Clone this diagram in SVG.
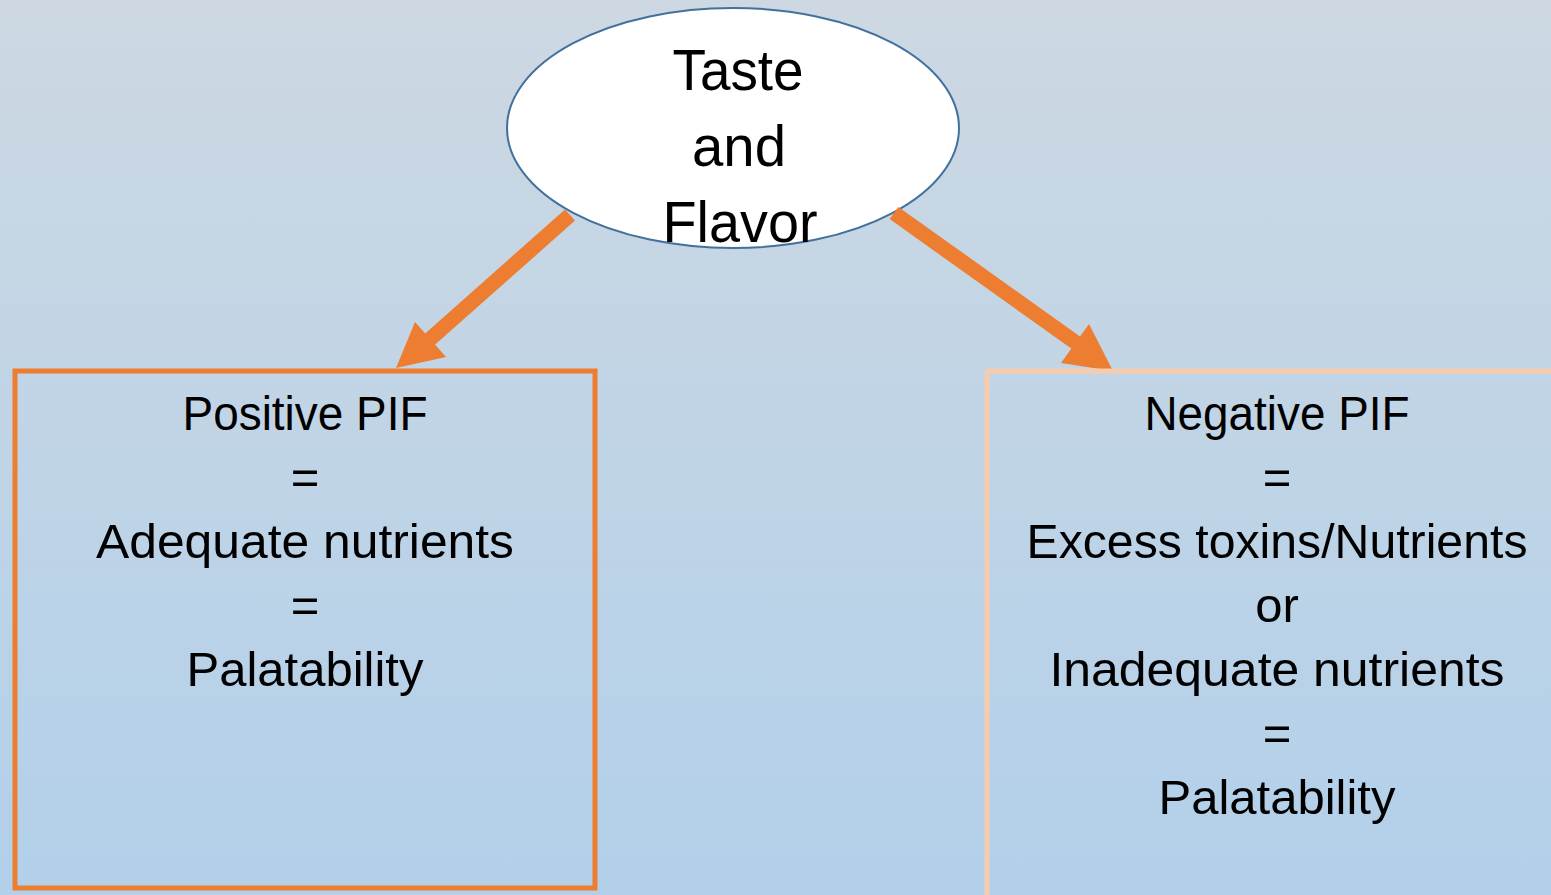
<svg xmlns="http://www.w3.org/2000/svg" width="1551" height="895" viewBox="0 0 1551 895">
  <defs>
    <linearGradient id="bg" x1="0" y1="0" x2="0" y2="1">
      <stop offset="0" stop-color="#CDD8E2"/>
      <stop offset="1" stop-color="#B2D0EA"/>
    </linearGradient>
  </defs>
  <style>
    .t { font-family: "Liberation Sans", Arial, sans-serif; fill: #000; text-anchor: middle; }
    .big { font-size: 58px; }
    .box { font-size: 49px; }
    .shaft { stroke: #ED7D31; stroke-width: 15; fill: none; }
    .head { fill: #ED7D31; }
  </style>
  <rect x="0" y="0" width="1551" height="895" fill="url(#bg)"/>

  <g id="node-taste">
    <ellipse cx="733" cy="128" rx="226" ry="120" fill="#FFFFFF" stroke="#41719C" stroke-width="2"/>
  </g>

  <g id="connectors">
    <line class="shaft" x1="570" y1="215" x2="420" y2="348"/>
    <polygon class="head" points="396,368 415,322 446,357"/>
    <line class="shaft" x1="894" y1="213" x2="1082" y2="347"/>
    <polygon class="head" points="1113,371 1089,324 1061,363"/>
  </g>

  <g id="node-taste-label">
    <text class="t big" x="738" y="90" textLength="131" lengthAdjust="spacingAndGlyphs">Taste</text>
    <text class="t big" x="739" y="166" textLength="94" lengthAdjust="spacingAndGlyphs">and</text>
    <text class="t big" x="740" y="242" textLength="155" lengthAdjust="spacingAndGlyphs">Flavor</text>
  </g>

  <g id="node-positive">
    <rect x="15" y="371" width="580" height="517" fill="none" stroke="#ED7D31" stroke-width="5"/>
    <text class="t box" x="305" y="430" textLength="245" lengthAdjust="spacingAndGlyphs">Positive PIF</text>
    <text class="t box" x="305" y="494">=</text>
    <text class="t box" x="305" y="558" textLength="418" lengthAdjust="spacingAndGlyphs">Adequate nutrients</text>
    <text class="t box" x="305" y="622">=</text>
    <text class="t box" x="305" y="686" textLength="237" lengthAdjust="spacingAndGlyphs">Palatability</text>
  </g>

  <g id="node-negative">
    <rect x="987" y="371" width="620" height="600" rx="3" fill="none" stroke="#F8CBAD" stroke-width="5"/>
    <text class="t box" x="1277" y="430" textLength="265" lengthAdjust="spacingAndGlyphs">Negative PIF</text>
    <text class="t box" x="1277" y="494">=</text>
    <text class="t box" x="1277" y="558" textLength="501" lengthAdjust="spacingAndGlyphs">Excess toxins/Nutrients</text>
    <text class="t box" x="1277" y="622">or</text>
    <text class="t box" x="1277" y="686" textLength="455" lengthAdjust="spacingAndGlyphs">Inadequate nutrients</text>
    <text class="t box" x="1277" y="750">=</text>
    <text class="t box" x="1277" y="814" textLength="237" lengthAdjust="spacingAndGlyphs">Palatability</text>
  </g>
</svg>
